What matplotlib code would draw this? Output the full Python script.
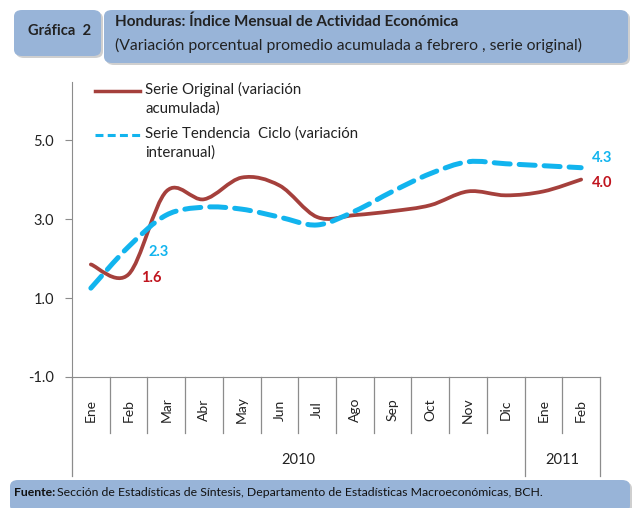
import matplotlib
matplotlib.use("Agg")
import matplotlib.pyplot as plt
import numpy as np
from matplotlib.path import Path
from matplotlib.patches import PathPatch, FancyBboxPatch
from matplotlib.lines import Line2D
import matplotlib.transforms as mtransforms

plt.rcParams['font.family'] = ['Lato', 'DejaVu Sans']

months = ["Ene", "Feb", "Mar", "Abr", "May", "Jun", "Jul", "Ago", "Sep", "Oct", "Nov", "Dic", "Ene", "Feb"]
years = ["2010", "2011"]
year_counts = [12, 2]
serie_original = [1.85, 1.6, 3.7, 3.5, 4.05, 3.85, 3.05, 3.1, 3.2, 3.35, 3.7, 3.6, 3.7, 4.0]
serie_tendencia = [1.25, 2.3, 3.1, 3.3, 3.25, 3.05, 2.85, 3.2, 3.7, 4.15, 4.45, 4.4, 4.35, 4.3]
series_names = ["Serie Original (variación\nacumulada)",
                "Serie Tendencia  Ciclo (variación\ninteranual)"]
yticks = [-1.0, 1.0, 3.0, 5.0]

RED = "#A5403C"
RED_LBL = "#C0141E"
BLUE = "#12B4EE"
BOX = "#98B4D8"
GRAY = "#8C8C8C"

W, H = 634, 508
fig = plt.figure(figsize=(W / 100, H / 100), dpi=100)

def fx(px):
    return px / W

def fy(py):
    return 1 - py / H

ax = fig.add_axes([fx(72), fy(377), fx(600) - fx(72), fy(82) - fy(377)])
ax.set_xlim(-0.5, len(months) - 0.5)
ax.set_ylim(-1.0, 6.47)


def smooth_path(xs, ys):
    xs = np.asarray(xs, float)
    ys = np.asarray(ys, float)
    n = len(xs)
    verts = [(xs[0], ys[0])]
    codes = [Path.MOVETO]
    for i in range(n - 1):
        p0 = np.array([xs[max(i - 1, 0)], ys[max(i - 1, 0)]])
        p1 = np.array([xs[i], ys[i]])
        p2 = np.array([xs[i + 1], ys[i + 1]])
        p3 = np.array([xs[min(i + 2, n - 1)], ys[min(i + 2, n - 1)]])
        c1 = p1 + (p2 - p0) / 6
        c2 = p2 - (p3 - p1) / 6
        verts += [tuple(c1), tuple(c2), tuple(p2)]
        codes += [Path.CURVE4] * 3
    return Path(verts, codes)

x = np.arange(len(months))
ax.add_patch(PathPatch(smooth_path(x, serie_original), fill=False, edgecolor=RED,
                       lw=2.7, capstyle='round', joinstyle='round', zorder=3))
ax.add_patch(PathPatch(smooth_path(x, serie_tendencia), fill=False, edgecolor=BLUE,
                       lw=3.6, linestyle=(0, (3.2, 1.8)), capstyle='round', zorder=4))

# legend (drawn manually so the key aligns with the first text line)
legend_styles = [dict(color=RED, lw=2.5, linestyle="-"),
                 dict(color=BLUE, lw=2.2, linestyle=(0, (2.6, 1.4)))]
legend_y = [90, 134]
for name, st, ly in zip(series_names, legend_styles, legend_y):
    fig.add_artist(Line2D([fx(95), fx(140)], [fy(ly + 1), fy(ly + 1)],
                          transform=fig.transFigure, **st))
    fig.text(fx(145), fy(ly - 8), name, fontsize=10.8, color="#222222",
             ha="left", va="top", linespacing=1.42)

# data labels
ax.annotate(f"{serie_original[1]:.1f}", (1, serie_original[1]), xytext=(12, -4),
            textcoords="offset pixels", color=RED_LBL, fontweight="bold", fontsize=10.5,
            ha="left", va="center")
ax.annotate(f"{serie_tendencia[1]:.1f}", (1, serie_tendencia[1]), xytext=(20, -5),
            textcoords="offset pixels", color=BLUE, fontweight="bold", fontsize=10.5,
            ha="left", va="center")
ax.annotate(f"{serie_tendencia[-1]:.1f}", (13, serie_tendencia[-1]), xytext=(11, 10),
            textcoords="offset pixels", color=BLUE, fontweight="bold", fontsize=10.5,
            ha="left", va="center")
ax.annotate(f"{serie_original[-1]:.1f}", (13, serie_original[-1]), xytext=(11, -3),
            textcoords="offset pixels", color=RED_LBL, fontweight="bold", fontsize=10.5,
            ha="left", va="center")

# axes styling
for s in ["top", "right"]:
    ax.spines[s].set_visible(False)
ax.spines["left"].set_color(GRAY)
ax.spines["bottom"].set_color(GRAY)
ax.set_yticks(yticks)
ax.set_yticklabels([f"{v:.1f}" for v in yticks], fontsize=10.5, color="#222222")
ax.tick_params(axis="y", length=5, color=GRAY, pad=8)
ax.set_xticks([])

# category axis with month labels and dividers
trans = mtransforms.blended_transform_factory(ax.transData, fig.transFigure)
for i, m in enumerate(months):
    ax.text(i, fy(410), m, transform=trans, rotation=90, ha="center", va="center",
            fontsize=10, color="#222222")
boundaries = set([0] + list(np.cumsum(year_counts)))
for b in range(len(months) + 1):
    bottom = fy(476) if b in boundaries else fy(433)
    ax.plot([b - 0.5, b - 0.5], [fy(377), bottom], transform=trans, color=GRAY,
            lw=0.9, clip_on=False)
start = 0
for yr, cnt in zip(years, year_counts):
    ax.text(start + (cnt - 1) / 2, fy(460), yr, transform=trans, ha="center",
            va="center", fontsize=10.5, color="#222222")
    start += cnt

# header boxes
def rbox(x0, y0, x1, y1, fc, r=8):
    shadow = FancyBboxPatch((fx(x0 + 2), fy(y1 + 2)), fx(x1) - fx(x0), fy(y0) - fy(y1),
                            boxstyle=f"round,pad=0,rounding_size={r / W}",
                            transform=fig.transFigure, fc="#B0B0B0", ec="none",
                            alpha=0.6, zorder=0)
    box = FancyBboxPatch((fx(x0), fy(y1)), fx(x1) - fx(x0), fy(y0) - fy(y1),
                         boxstyle=f"round,pad=0,rounding_size={r / W}",
                         transform=fig.transFigure, fc=fc, ec="none", zorder=1)
    fig.patches.extend([shadow, box])

rbox(14, 10, 101, 56, BOX)
rbox(104, 10, 628, 63, BOX)
rbox(10, 480, 630, 512, BOX)

fig.text(fx(28), fy(31), "Gráfica  2", fontsize=10.6, fontweight="bold", color="#222222",
         ha="left", va="center")
fig.text(fx(115), fy(22), "Honduras: Índice Mensual de Actividad Económica", fontsize=11,
         fontweight="bold", color="#222222", ha="left", va="center")
fig.text(fx(115), fy(45), "(Variación porcentual promedio acumulada a febrero , serie original)",
         fontsize=11.3, color="#222222", ha="left", va="center")

ft = fig.text(fx(14), fy(493), "Fuente:", fontsize=8.8, fontweight="bold", color="#111111",
              ha="left", va="center")
fig.canvas.draw()
bb = ft.get_window_extent()
fig.text(bb.x1 / W + 0.002, fy(493),
         "Sección de Estadísticas de Síntesis, Departamento de Estadísticas Macroeconómicas, BCH.",
         fontsize=8.8, color="#111111", ha="left", va="center")

fig.savefig("out.png", dpi=100)
